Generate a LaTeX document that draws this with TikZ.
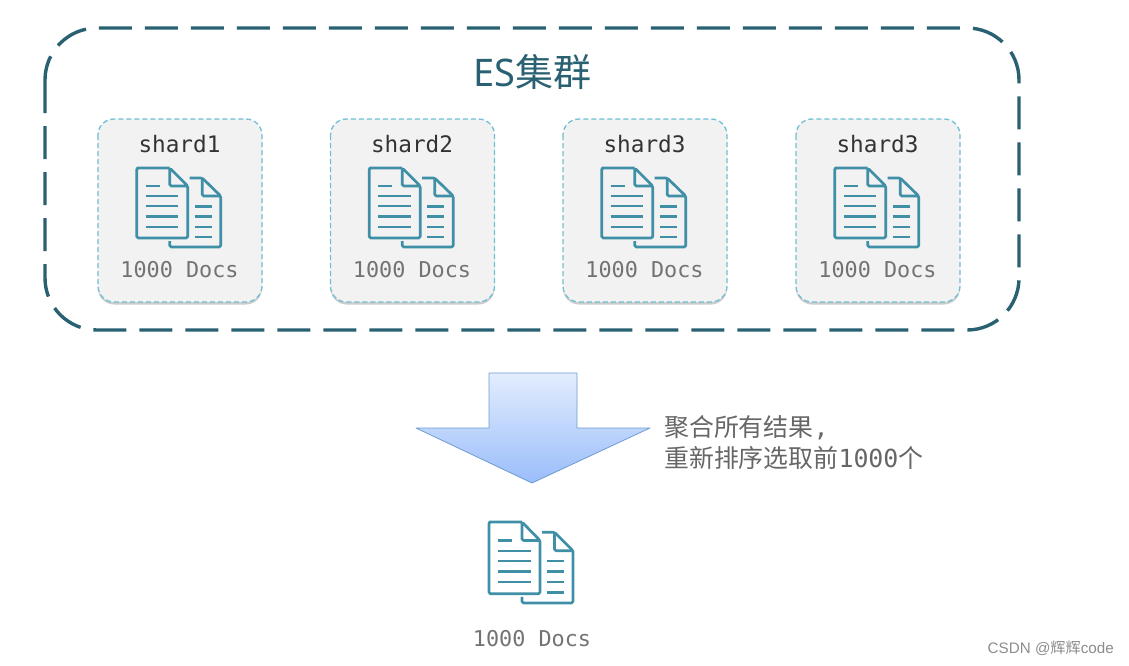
\documentclass[tikz,border=0pt]{standalone}
\usepackage{fontspec}
\setmainfont{Noto Sans}
\setmonofont{DejaVu Sans Mono}
\newfontfamily\cjk{Noto Sans CJK SC}
\usetikzlibrary{shadows}
\definecolor{clusterc}{HTML}{2A6172}
\definecolor{shardc}{HTML}{6FBFD6}
\definecolor{docc}{HTML}{3F8FA6}
\definecolor{arrowe}{HTML}{6F9BD2}
\definecolor{arrowt}{HTML}{E3EDFD}
\definecolor{arrowb}{HTML}{9ABDFB}

\begin{document}
\begin{tikzpicture}
[
  x=1pt,
  y=-1pt,
	cluster/.style={line width=3.4pt,clusterc,dash pattern=on 33pt off 13pt,rounded corners=52},
	shardbox/.style={line width=1.3pt,shardc,fill=gray!10,dash pattern=on 5pt off 3pt,rounded corners=16,
		drop shadow={shadow xshift=0pt,shadow yshift=-2.5pt,fill=black,opacity=0.2}},
	shardname/.style={font=\ttfamily\fontsize{22.7}{26}\selectfont,text=black!80},
	docslabel/.style={font=\ttfamily\fontsize{21.8}{26}\selectfont,text=black!55},
	notelabel/.style={font=\ttfamily\fontsize{24.9}{30}\selectfont,text=black!60,anchor=west,inner sep=0pt},
	doc/.pic={
		\draw[docc,line width=2.7pt,line join=round,rounded corners=1.5]
			(33,0) -- (2,0) -- (0,0) -- (0,70) -- (51,70) -- (51,18) -- (33,0) -- (33,18) -- (51,18);
		\draw[docc,line width=2.7pt,line join=round,rounded corners=1.5]
			(53,10) -- (65.5,10) -- (84,28) -- (84,79) -- (33,79) -- (33,73);
		\draw[docc,line width=2.7pt,line join=round,rounded corners=1.5]
			(65.5,10) -- (65.5,28) -- (84,28);
		\draw[docc,line width=2.4pt] (9,18) -- (23,18);
		\draw[docc,line width=2.4pt] (9,28) -- (41.5,28);
		\draw[docc,line width=2.4pt] (9,38) -- (41.5,38);
		\draw[docc,line width=2.4pt] (9,48.3) -- (41.5,48.3);
		\draw[docc,line width=2.4pt] (9,58.7) -- (41.5,58.7);
		\draw[docc,line width=2.4pt] (58,38.3) -- (75,38.3);
		\draw[docc,line width=2.4pt] (58,48.3) -- (75,48.3);
		\draw[docc,line width=2.4pt] (58,58.7) -- (75,58.7);
		\draw[docc,line width=2.4pt] (58,68.7) -- (75,68.7);
	}
]
\useasboundingbox (0,0) rectangle (1129,665);

% cluster
\draw[cluster] (45,28) rectangle (1019,330);
\node[font=\fontsize{38}{42}\selectfont,text=clusterc] (title) at (532,72) {ES{\cjk 集群}};

% shards
\draw[shardbox] (98,119) rectangle +(164,183);
\node[shardname] (shard1) at (179.5,144) {shard1};
\draw (136.7,168) pic {doc};
\node[docslabel] (docs1) at (179.5,270) {1000 Docs};

\draw[shardbox] (330.5,119) rectangle +(164,183);
\node[shardname] (shard2) at (412,144) {shard2};
\draw (369.2,168) pic {doc};
\node[docslabel] (docs2) at (412,270) {1000 Docs};

\draw[shardbox] (563,119) rectangle +(164,183);
\node[shardname] (shard3) at (644.5,144) {shard3};
\draw (601.7,168) pic {doc};
\node[docslabel] (docs3) at (644.5,270) {1000 Docs};

\draw[shardbox] (796,119) rectangle +(164,183);
\node[shardname] (shard4) at (877.5,144) {shard3};
\draw (834.7,168) pic {doc};
\node[docslabel] (docs4) at (877.5,270) {1000 Docs};

% merge arrow
\draw[arrowe,thick,line join=round,top color=arrowt,bottom color=arrowb]
	(489,373) -- (577,373) -- (577,428) -- (650,428) -- (532,483) -- (416,428) -- (489,428) -- cycle;
\node[notelabel] (merge1) at (664,428) {{\cjk 聚合所有结果},};
\node[notelabel] (merge2) at (664,458) {{\cjk 重新排序选取前}1000{\cjk 个}};

% result
\draw (489,522) pic[yscale=1.025] {doc};
\node[docslabel] (result) at (532,639) {1000 Docs};

\node[font=\fontsize{15.2}{18}\selectfont,text=black!45,anchor=east,inner sep=0pt] (mark) at (1114,648) {\fontspec{Liberation Sans}CSDN @{\cjk 辉辉}code};

\end{tikzpicture}
\end{document}
